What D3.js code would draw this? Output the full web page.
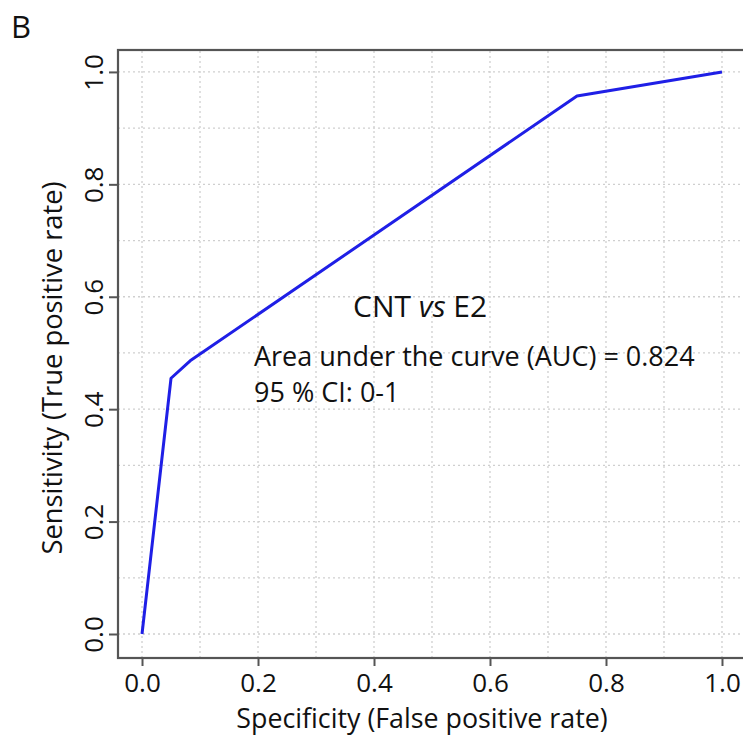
<!DOCTYPE html>
<html>
<head>
<meta charset="utf-8">
<script src="https://cdn.jsdelivr.net/npm/d3@7"></script>
<style>
  html, body { margin: 0; padding: 0; background: #fff; }
  svg text { font-family: "Open Sans", Lato, sans-serif; fill: #111; }
</style>
</head>
<body>
<svg id="chart" width="743" height="737"></svg>
<script>
// ROC curve points (false positive rate, true positive rate)
const fpr = [0, 0.05, 0.083, 0.75, 1.0];
const tpr = [0, 0.455, 0.486, 0.957, 1.0];
const tickValues = [0, 0.2, 0.4, 0.6, 0.8, 1.0];
const gridValues = [0, 0.1, 0.2, 0.3, 0.4, 0.5, 0.6, 0.7, 0.8, 0.9, 1.0];
const panelLabel = "B";
const titleText = ["CNT ", "vs", " E2"];
const aucLines = ["Area under the curve (AUC) = 0.824", "95 % CI: 0-1"];
const xTitle = "Specificity (False positive rate)";
const yTitle = "Sensitivity (True positive rate)";

const FONT = "'Open Sans', Lato, sans-serif";
const svg = d3.select("#chart");

// plot frame with ~4% padding around the [0,1] range
const x = d3.scaleLinear().domain([-0.0414, 1.0414]).range([118, 746]);
const y = d3.scaleLinear().domain([-0.0427, 1.039]).range([658, 50]);

const fmt = d3.format(".1f");

// dotted grid
const grid = svg.append("g").attr("stroke", "#cfcfcf").attr("stroke-width", 1.3)
  .attr("stroke-dasharray", "2,3");
grid.selectAll("line.v").data(gridValues).join("line")
  .attr("x1", d => x(d)).attr("x2", d => x(d))
  .attr("y1", y.range()[0]).attr("y2", y.range()[1]);
grid.selectAll("line.h").data(gridValues).join("line")
  .attr("y1", d => y(d)).attr("y2", d => y(d))
  .attr("x1", x.range()[0]).attr("x2", x.range()[1]);

// frame
svg.append("rect")
  .attr("x", x.range()[0]).attr("y", y.range()[1])
  .attr("width", x.range()[1] - x.range()[0])
  .attr("height", y.range()[0] - y.range()[1])
  .attr("fill", "none").attr("stroke", "#555").attr("stroke-width", 2.2);

// axes
const xAxis = d3.axisBottom(x).tickValues(tickValues).tickFormat(fmt).tickSize(8).tickPadding(8);
const gx = svg.append("g").attr("transform", `translate(0,${y.range()[0]})`).call(xAxis);
gx.select(".domain").remove();
gx.selectAll(".tick line").attr("stroke", "#555").attr("stroke-width", 2);
gx.selectAll(".tick text").attr("font-size", 26).attr("font-family", FONT).attr("fill", "#111");

const yAxis = d3.axisLeft(y).tickValues(tickValues).tickFormat(fmt).tickSize(9).tickPadding(0);
const gy = svg.append("g").attr("transform", `translate(${x.range()[0]},0)`).call(yAxis);
gy.select(".domain").remove();
gy.selectAll(".tick line").attr("stroke", "#555").attr("stroke-width", 2);
gy.selectAll(".tick text")
  .attr("font-size", 26).attr("font-family", FONT).attr("fill", "#111")
  .attr("text-anchor", "middle").attr("dy", 0)
  .attr("transform", "translate(-15,0) rotate(-90)")
  .attr("x", 0).attr("y", 0);

// ROC curve
const pts = fpr.map((d, i) => [d, tpr[i]]);
svg.append("path")
  .datum(pts)
  .attr("fill", "none")
  .attr("stroke", "#1f1fe6")
  .attr("stroke-width", 3)
  .attr("stroke-linejoin", "round")
  .attr("d", d3.line().x(d => x(d[0])).y(d => y(d[1])));

// annotations
const t = svg.append("text").attr("x", 353).attr("y", 317).attr("font-size", 30);
t.append("tspan").text(titleText[0]);
t.append("tspan").attr("font-style", "italic").text(titleText[1]);
t.append("tspan").text(titleText[2]);

svg.selectAll("text.auc").data(aucLines).join("text")
  .attr("class", "auc")
  .attr("x", 254).attr("y", (d, i) => 366 + i * 36)
  .attr("font-size", 27)
  .text(d => d);

// axis titles
svg.append("text").attr("x", 422).attr("y", 728).attr("text-anchor", "middle")
  .attr("font-size", 26.8).text(xTitle);
svg.append("text").attr("transform", "translate(62,368) rotate(-90)")
  .attr("text-anchor", "middle").attr("font-size", 27.3).text(yTitle);

// panel label
svg.append("text").attr("x", 11).attr("y", 38).attr("font-size", 31).text(panelLabel);
</script>
</body>
</html>
